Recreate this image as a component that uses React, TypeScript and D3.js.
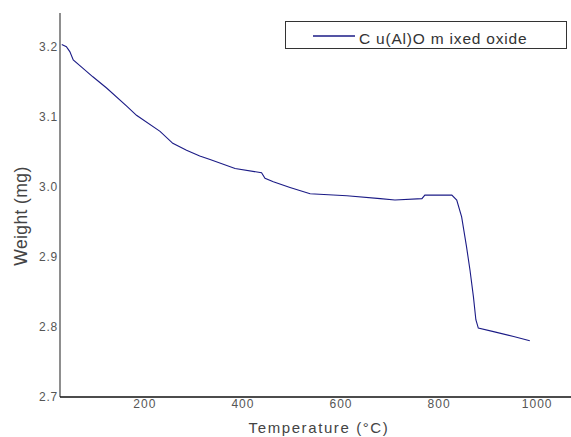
import React from "react";
import * as d3 from "d3";

const temps = [30.6, 40, 47, 54, 74, 94, 122, 163, 183, 231, 257, 285, 312, 333, 384, 438, 445, 462, 496, 537, 612, 680, 710, 765, 771, 826, 836, 846, 856, 863, 870, 875, 880, 911, 952, 985];
const weights = [3.202, 3.199, 3.192, 3.18, 3.168, 3.156, 3.14, 3.114, 3.101, 3.078, 3.061, 3.051, 3.043, 3.038, 3.025, 3.019, 3.011, 3.006, 2.998, 2.989, 2.986, 2.982, 2.98, 2.982, 2.987, 2.987, 2.98, 2.956, 2.913, 2.88, 2.842, 2.809, 2.797, 2.792, 2.785, 2.779];
const xTicks = [200, 400, 600, 800, 1000];
const yTicks = [2.7, 2.8, 2.9, 3.0, 3.1, 3.2];
const seriesName = "C u(Al)O m ixed oxide";

export default function App() {
  const W = 571, H = 437;
  const x = d3.scaleLinear().domain([27, 1069]).range([60, 571]);
  const y = d3.scaleLinear().domain([2.7, 3.2]).range([396, 46]);
  const data = temps.map((t, i) => [t, weights[i]] as [number, number]);
  const line = d3.line<[number, number]>().x(d => x(d[0])).y(d => y(d[1]));
  const font = "Arial, 'Liberation Sans', sans-serif";
  return (
    <svg width={W} height={H} style={{ position: "absolute", left: 0, top: 0, background: "#fff" }} fontFamily={font}>
      <rect width={W} height={H} fill="#fff" />
      <line x1={60} y1={13} x2={60} y2={397} stroke="#444" strokeWidth={1.2} />
      <line x1={60} y1={397} x2={571} y2={397} stroke="#111" strokeWidth={1.5} />
      {yTicks.map(t => (
        <text key={t} x={58} y={y(t) + 4.5} textAnchor="end" fontSize={12} fill="#555" letterSpacing={0.8}>{t.toFixed(1)}</text>
      ))}
      {xTicks.map(t => (
        <text key={t} x={x(t)} y={408} textAnchor="middle" fontSize={12} fill="#555" letterSpacing={1}>{t}</text>
      ))}
      <path d={line(data) || ""} fill="none" stroke="#1b1b86" strokeWidth={1.1} />
      <text x={319} y={433} textAnchor="middle" fontSize={15} fill="#444" letterSpacing={1.6}>Temperature (°C)</text>
      <text transform={`translate(27,216) rotate(-90)`} textAnchor="middle" fontSize={17.5} fill="#444" letterSpacing={0.4}>Weight (mg)</text>
      <rect x={285.5} y={21.5} width={281} height={27} fill="#fff" stroke="#333" strokeWidth={1} />
      <line x1={313} y1={36} x2={355} y2={36} stroke="#1b1b86" strokeWidth={1.3} />
      <text x={359} y={44} fontSize={15.5} fill="#333" letterSpacing={0.8}>{seriesName}</text>
    </svg>
  );
}
